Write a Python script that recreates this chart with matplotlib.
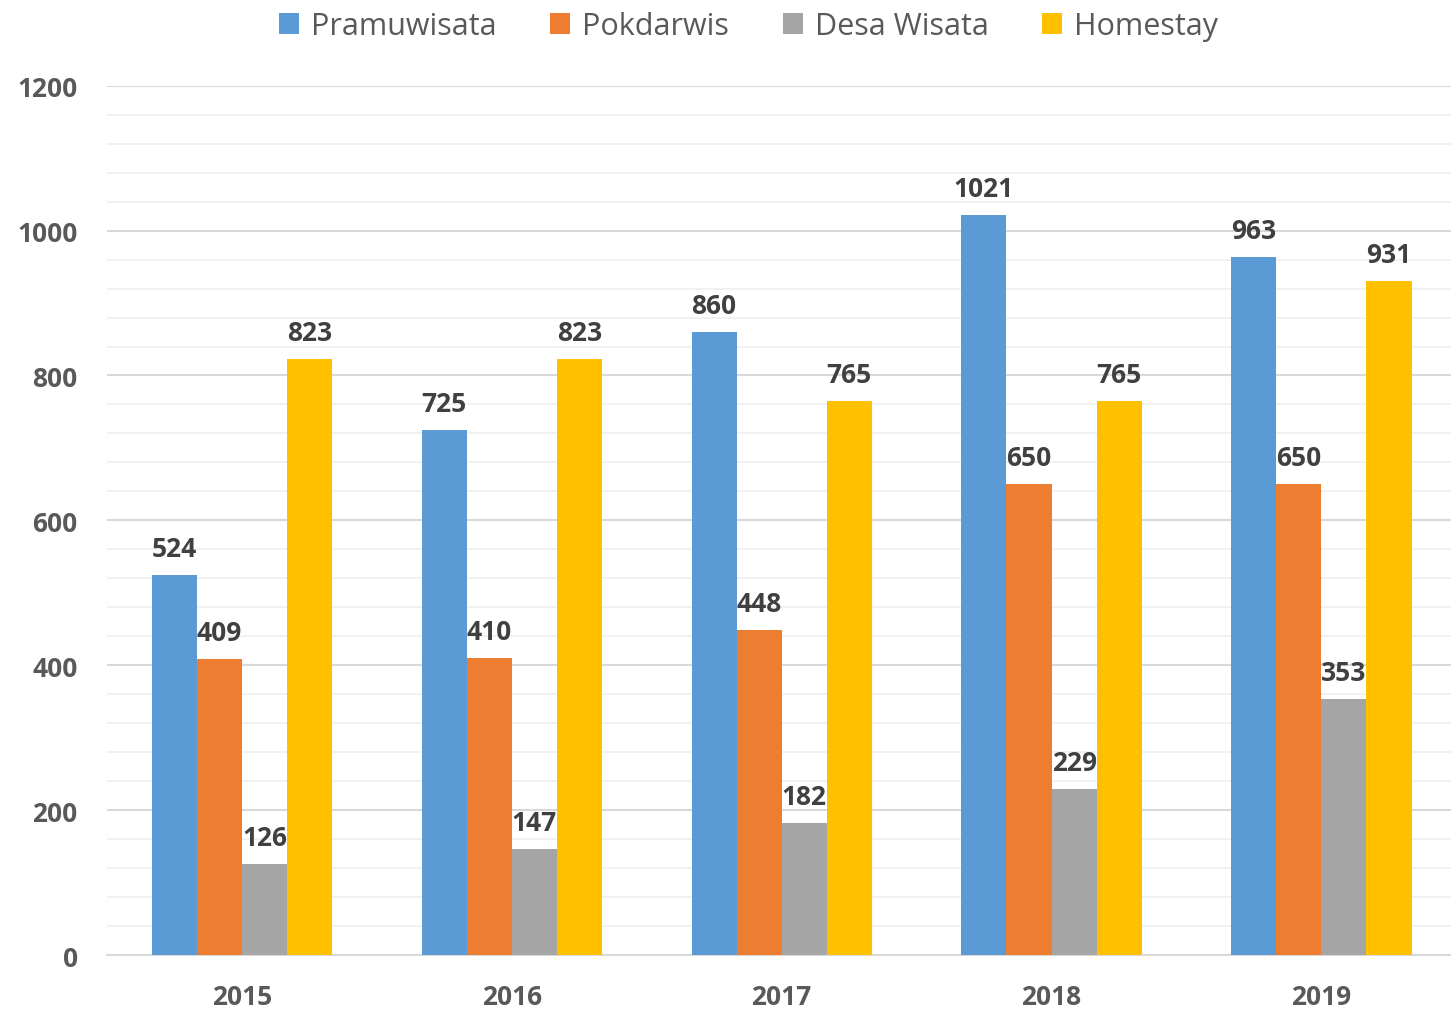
import matplotlib.pyplot as plt
from matplotlib.ticker import MultipleLocator
import numpy as np

plt.rcParams['font.family'] = ['Open Sans', 'DejaVu Sans']

tahun = ['2015', '2016', '2017', '2018', '2019']
seri = ['Pramuwisata', 'Pokdarwis', 'Desa Wisata', 'Homestay']
pramuwisata = [524, 725, 860, 1021, 963]
pokdarwis = [409, 410, 448, 650, 650]
desa_wisata = [126, 147, 182, 229, 353]
homestay = [823, 823, 765, 765, 931]
warna = ['#5B9BD5', '#ED7D31', '#A5A5A5', '#FFC000']

data = [pramuwisata, pokdarwis, desa_wisata, homestay]

fig = plt.figure(figsize=(14.51, 10.12), dpi=100)
ax = fig.add_axes([0.0737, 0.0553, 0.93, 0.859])

x = np.arange(len(tahun))
lebar = 0.167
for i, (nilai, nama, c) in enumerate(zip(data, seri, warna)):
    pos = x + (i - 1.5) * lebar
    ax.bar(pos, nilai, width=lebar, color=c, label=nama, zorder=3)
    for px, v in zip(pos, nilai):
        ax.text(px, v + 18, str(v), ha='center', va='bottom', fontsize=19,
                fontweight='bold', color='#404040', zorder=4)

ax.set_xlim(-0.5, 4.5)
ax.set_ylim(0, 1200)
ax.yaxis.set_major_locator(MultipleLocator(200))
ax.yaxis.set_minor_locator(MultipleLocator(40))
ax.grid(axis='y', which='major', color='#D9D9D9', linewidth=1.5, zorder=0)
ax.grid(axis='y', which='minor', color='#EFEFEF', linewidth=1.2, zorder=0)
ax.set_xticks(x)
ax.set_xticklabels(tahun)
ax.tick_params(axis='both', which='both', length=0, labelsize=19, labelcolor='#595959')
ax.tick_params(axis='x', pad=20)
ax.tick_params(axis='y', pad=21)
for lbl in ax.get_xticklabels() + ax.get_yticklabels():
    lbl.set_fontweight('bold')
for s in ['top', 'right', 'left']:
    ax.spines[s].set_visible(False)
ax.spines['bottom'].set_color('#D9D9D9')
ax.spines['bottom'].set_linewidth(1.5)

fig.legend(loc='upper center', bbox_to_anchor=(0.516, 1.015), ncol=4, frameon=False,
           fontsize=22, labelcolor='#595959', handlelength=0.65, handleheight=0.65,
           handletextpad=0.4, columnspacing=1.75)

fig.savefig('out.png', dpi=100)
